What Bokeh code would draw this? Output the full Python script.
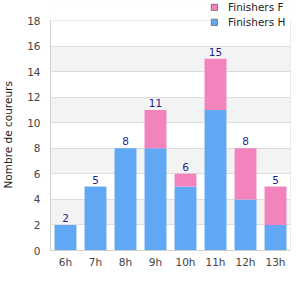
from bokeh.plotting import figure
from bokeh.models import (FactorRange, Range1d, FixedTicker, Legend, LegendItem, ColumnDataSource,
                          Title, BoxAnnotation)
from bokeh.core.properties import value
from bokeh.embed import file_html
from bokeh.resources import INLINE

categories = ["6h", "7h", "8h", "9h", "10h", "11h", "12h", "13h"]
finishers_h = [2, 5, 8, 8, 5, 11, 4, 2]
finishers_f = [0, 0, 0, 3, 1, 4, 4, 3]
y_ticks = [0, 2, 4, 6, 8, 10, 12, 14, 16, 18]

totals = [h + f for h, f in zip(finishers_h, finishers_f)]
FONT = "DejaVu Sans"
FS = "10.5px"
BLUE = "#60a8f4"
PINK = "#f383bc"
Y_TOP = y_ticks[-1]
# frame extends 20px above the top tick so that the legend can sit there
Y_END = Y_TOP * 250 / 230

p = figure(width=300, height=300, x_range=FactorRange(*categories, range_padding=0),
           y_range=Range1d(0, Y_END), output_backend="svg", toolbar_location=None,
           min_border_left=50, min_border_right=10, min_border_top=0, min_border_bottom=50)
p.background_fill_color = "white"
p.border_fill_color = "white"
p.outline_line_color = None

src = ColumnDataSource(dict(cat=categories, h=finishers_h, f=finishers_f, total=totals,
                            lab=[str(t) for t in totals]))
p.vbar_stack(["h", "f"], x="cat", width=0.73, source=src, color=[BLUE, PINK], line_color=None)

p.text(x="cat", y="total", text="lab", source=src, text_align="center", text_baseline="bottom",
       y_offset=-3, text_font=value(FONT), text_font_size=FS, text_color="#1f1f8f")

# right border of the plotting area (up to the top tick)
p.segment(x0=[len(categories)], x1=[len(categories)], y0=[0], y1=[Y_TOP],
          line_color="#d8d8d8", line_width=1)

# blank strip above the top tick
p.add_layout(BoxAnnotation(bottom=Y_TOP, fill_color="white", fill_alpha=1, line_color=None))

# legend proxies (drawn below the visible range)
rf = p.vbar(x=[categories[0]], bottom=[-3], top=[-2], width=0.5, fill_color=PINK, line_color="#777777")
rh = p.vbar(x=[categories[0]], bottom=[-3], top=[-2], width=0.5, fill_color=BLUE, line_color="#777777")
legend = Legend(items=[LegendItem(label="Finishers F", renderers=[rf]),
                       LegendItem(label="Finishers H", renderers=[rh])],
                location=(160, 222), orientation="vertical",
                label_text_font=FONT, label_text_font_size=FS, label_text_color="#222222",
                glyph_width=8, glyph_height=8, label_height=12, label_width=62,
                spacing=3, padding=3, margin=0,
                label_standoff=10, background_fill_color="white", background_fill_alpha=1,
                border_line_color=None)
p.add_layout(legend, "center")

p.xgrid.grid_line_color = None
p.ygrid.grid_line_color = "#dddddd"
p.ygrid.band_fill_color = "#f3f3f3"
p.ygrid.band_fill_alpha = 1
p.ygrid.bounds = (0, Y_TOP)

p.yaxis.ticker = FixedTicker(ticks=y_ticks)
p.yaxis.bounds = (0, Y_TOP)
p.yaxis.axis_line_color = "#d0d0d0"
p.yaxis.major_tick_line_color = None
p.yaxis.minor_tick_line_color = None
p.yaxis.major_tick_out = 0
p.yaxis.major_tick_in = 0
p.yaxis.minor_tick_out = 0
p.yaxis.major_label_standoff = 10
p.yaxis.major_label_text_font = FONT
p.yaxis.major_label_text_font_size = FS
p.yaxis.major_label_text_color = "#444444"

# y-axis title, centred on the 0..18 span
ytitle = Title(text="Nombre de coureurs", align="left", offset=62, standoff=0,
               vertical_align="bottom",
               text_font=FONT, text_font_size=FS, text_font_style="normal",
               text_color="#222222")
try:
    ytitle.padding = (0, 0, 0, 11)
except Exception:
    ytitle.standoff = 11
p.add_layout(ytitle, "left")

p.xaxis.axis_line_color = "#d0d0d0"
p.xaxis.major_tick_line_color = None
p.xaxis.minor_tick_line_color = None
p.xaxis.major_tick_out = 0
p.xaxis.major_tick_in = 0
p.xaxis.minor_tick_out = 0
p.xaxis.major_label_standoff = 5
p.xaxis.major_label_text_font = FONT
p.xaxis.major_label_text_font_size = FS
p.xaxis.major_label_text_color = "#444444"

open("out.html", "w").write(file_html(p, INLINE))
